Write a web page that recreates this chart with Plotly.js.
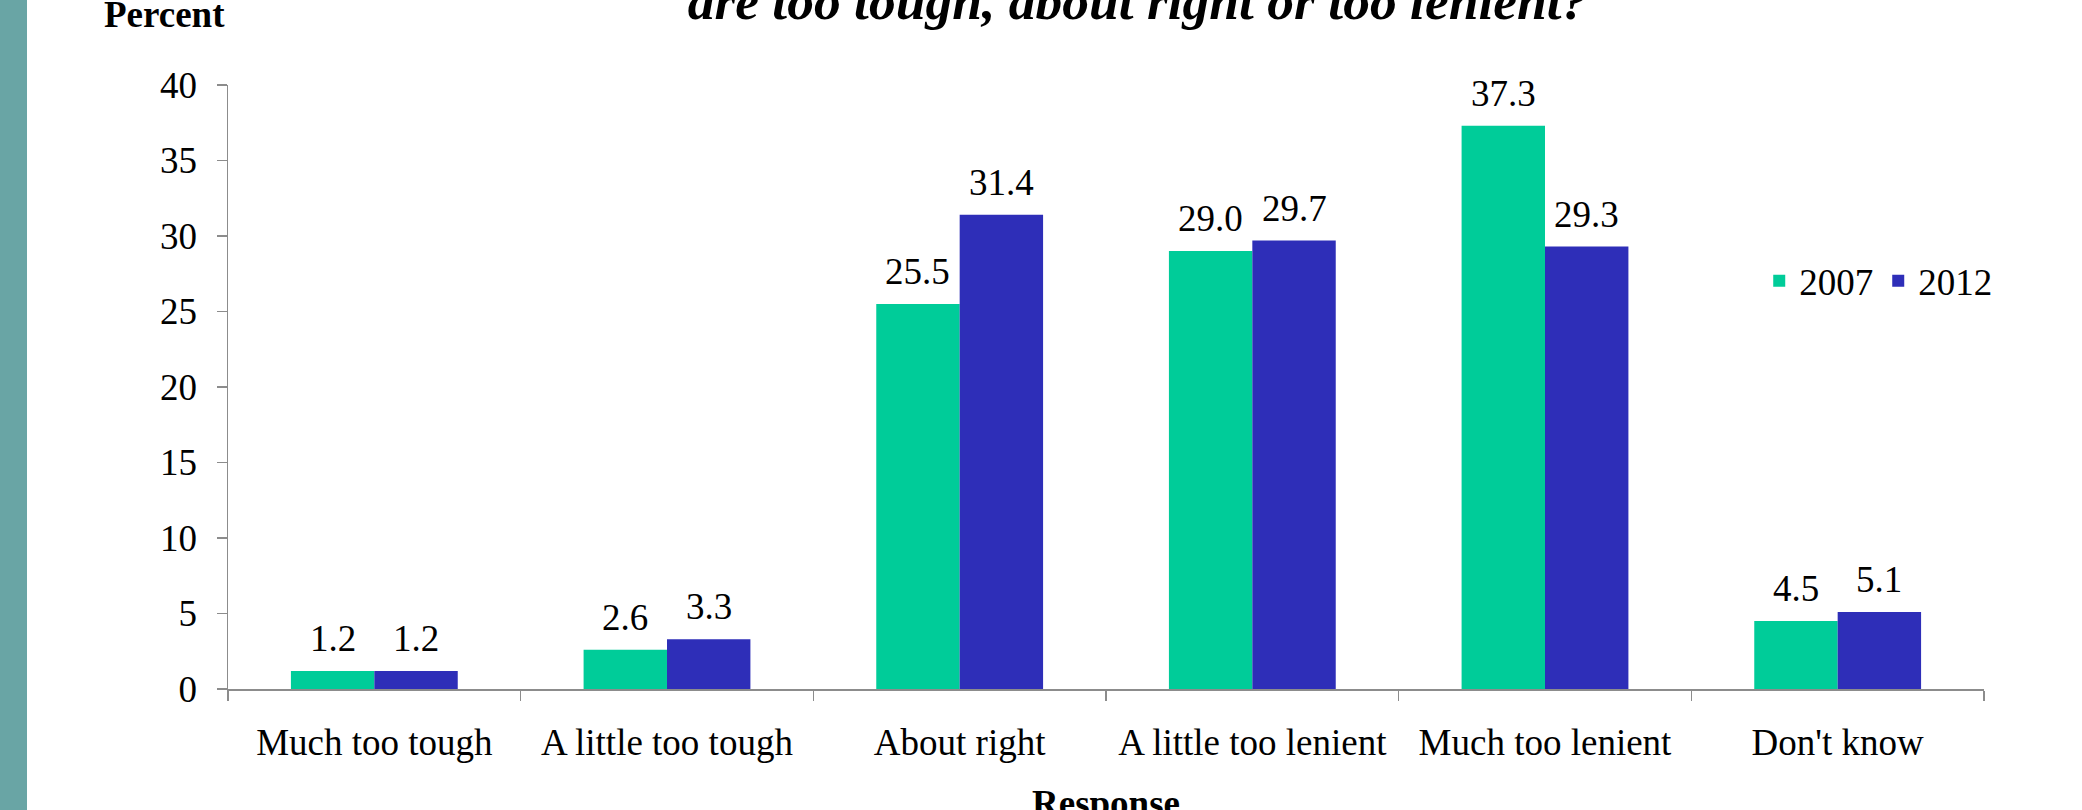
<!DOCTYPE html>
<html>
<head>
<meta charset="utf-8">
<script src="https://cdn.plot.ly/plotly-3.0.1.min.js"></script>
<style>
  html, body { margin: 0; padding: 0; background: #ffffff; }
  #wrap { position: relative; width: 2082px; height: 810px; overflow: hidden; }
  #chart { position: absolute; left: 0; top: 0; width: 2082px; height: 810px; }
  #band { position: absolute; left: 0; top: 0; width: 27px; height: 810px; background: #69a5a5; }
</style>
</head>
<body>
<div id="wrap">
  <div id="chart"></div>
  <div id="band"></div>
</div>
<script>
// Survey responses, percent of respondents
const responses = ["Much too tough", "A little too tough", "About right",
                   "A little too lenient", "Much too lenient", "Don't know"];
const values2007 = [1.2, 2.6, 25.5, 29.0, 37.3, 4.5];
const values2012 = [1.2, 3.3, 31.4, 29.7, 29.3, 5.1];
const seriesNames = ["2007", "2012"];
const seriesColors = ["#00cc99", "#2e2eb8"];
const yTicks = [0, 5, 10, 15, 20, 25, 30, 35, 40];

const FONT = "Liberation Serif";
const AXIS_GRAY = "#8c8c8c";
const TXT = 37;
const BARGAP = 0.43;

const series = [
  { name: seriesNames[0], values: values2007, color: seriesColors[0] },
  { name: seriesNames[1], values: values2012, color: seriesColors[1] }
];

const data = series.map(s => ({
  type: "bar",
  name: s.name,
  x: responses,
  y: s.values,
  marker: { color: s.color },
  hoverinfo: "skip"
}));

// Value labels above each bar: grouped bars split the (1 - bargap) slot
// evenly, so each bar's centre sits a quarter slot either side of the category.
const barHalf = (1 - BARGAP) / 4;
const valueLabels = [];
series.forEach((s, k) => {
  const shift = (k === 0 ? -1 : 1) * barHalf;
  s.values.forEach((v, i) => {
    valueLabels.push({
      xref: "x", yref: "y",
      x: i + shift, y: v,
      text: v.toFixed(1),
      showarrow: false,
      xanchor: "center", yanchor: "bottom",
      yshift: 10,
      font: { family: FONT, size: TXT, color: "#000000" }
    });
  });
});

const layout = {
  width: 2082,
  height: 810,
  margin: { l: 228, r: 98, t: 85, b: 121, pad: 0 },
  paper_bgcolor: "#ffffff",
  plot_bgcolor: "#ffffff",
  font: { family: FONT, size: TXT, color: "#000000" },
  barmode: "group",
  bargap: BARGAP,
  bargroupgap: 0,
  showlegend: true,
  legend: {
    orientation: "h",
    x: 0.872,
    xanchor: "left",
    y: 0.675,
    yanchor: "middle",
    font: { family: FONT, size: TXT, color: "#000000" },
    bgcolor: "rgba(0,0,0,0)",
    traceorder: "normal"
  },
  title: {
    text: "are too tough, about right or too lenient?",
    font: { family: FONT, size: 53.5, weight: "bold", style: "italic", color: "#000000" },
    x: 1138 / 2082,
    xanchor: "center",
    xref: "container",
    y: 0.9765,
    yanchor: "bottom",
    yref: "container"
  },
  xaxis: {
    type: "category",
    range: [-0.5, responses.length - 0.5],
    showline: true,
    linecolor: AXIS_GRAY,
    linewidth: 1.5,
    ticks: "outside",
    tickson: "boundaries",
    ticklen: 10,
    tickcolor: AXIS_GRAY,
    tickwidth: 1.5,
    ticklabelstandoff: 20,
    showgrid: false,
    zeroline: false,
    tickfont: { family: FONT, size: TXT, color: "#000000" },
    automargin: false
  },
  yaxis: {
    range: [0, 40],
    tickvals: yTicks,
    ticktext: yTicks.map(String),
    showline: true,
    linecolor: AXIS_GRAY,
    linewidth: 1.5,
    ticks: "outside",
    ticklen: 10,
    tickcolor: AXIS_GRAY,
    tickwidth: 1.5,
    ticklabelstandoff: 12,
    showgrid: false,
    zeroline: false,
    tickfont: { family: FONT, size: TXT, color: "#000000" },
    automargin: false
  },
  annotations: valueLabels.concat([
    {
      text: "Percent",
      xref: "paper", yref: "paper",
      x: (102 - 228) / 1756, xanchor: "left",
      y: (689 - 15) / 604, yanchor: "middle",
      showarrow: false,
      font: { family: FONT, size: TXT, weight: "bold", color: "#000000" }
    },
    {
      text: "Response",
      xref: "paper", yref: "paper",
      x: 0.5, xanchor: "center",
      y: (689 - 781) / 604, yanchor: "top",
      showarrow: false,
      font: { family: FONT, size: TXT, weight: "bold", color: "#000000" }
    }
  ])
};

Plotly.newPlot("chart", data, layout, { displayModeBar: false, staticPlot: true });
</script>
</body>
</html>
